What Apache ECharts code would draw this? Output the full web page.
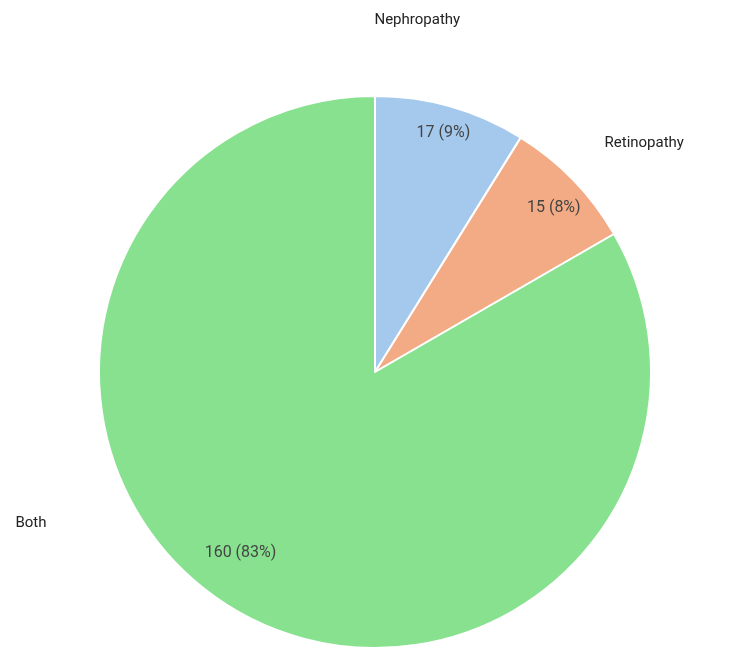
<!DOCTYPE html>
<html>
<head>
<meta charset="utf-8">
<script src="https://cdn.jsdelivr.net/npm/echarts@6/dist/echarts.min.js"></script>
<style>
  html, body { margin: 0; padding: 0; background: #fff; }
  #chart { width: 750px; height: 671px; }
</style>
</head>
<body>
<div id="chart"></div>
<script>
const categories = ['Nephropathy', 'Retinopathy', 'Both'];
const counts = [17, 15, 160];
const colors = ['#a5c9ec', '#f2ab85', '#87e18f'];

// label nudges from the library's default spot (pct ring / name ring)
const pctNudge = [[-1, 4], [-3, 12], [-8, -38]];
const nameNudge = [[-56, -8], [12, 20], [-165, -159]];

var chartDom = document.getElementById('chart');
var myChart = echarts.init(chartDom);

var total = counts.reduce(function (a, b) { return a + b; }, 0);
var pieData = categories.map(function (c, i) {
    return { name: c, value: counts[i], itemStyle: { color: colors[i] } };
});
var ghostData = categories.map(function (c, i) {
    return { name: c, value: counts[i] };
});

var ghost = {
    color: 'transparent',
    borderWidth: 0
};

var option = {
    animation: false,
    series: [
        {
            type: 'pie',
            center: [375, 372],
            radius: 276,
            startAngle: 90,
            clockwise: true,
            itemStyle: { borderColor: '#fff', borderWidth: 2 },
            label: { show: false },
            labelLine: { show: false },
            emphasis: { disabled: true },
            data: pieData
        },
        {
            type: 'pie',
            center: [375, 372],
            radius: [224, 276],
            startAngle: 90,
            silent: true,
            itemStyle: ghost,
            labelLine: { show: false },
            label: {
                show: true,
                position: 'inside',
                fontFamily: 'Roboto',
                fontSize: 16,
                color: '#444',
                formatter: function (p) {
                    return p.value + ' (' + Math.round(p.value / total * 100) + '%)';
                }
            },
            labelLayout: function (p) {
                return { dx: pctNudge[p.dataIndex][0], dy: pctNudge[p.dataIndex][1] };
            },
            data: ghostData
        },
        {
            type: 'pie',
            center: [375, 372],
            radius: [350, 360],
            startAngle: 90,
            silent: true,
            itemStyle: ghost,
            labelLine: { show: false },
            label: {
                show: true,
                position: 'inside',
                fontFamily: 'Roboto',
                fontSize: 15,
                color: '#222',
                formatter: '{b}'
            },
            labelLayout: function (p) {
                return { dx: nameNudge[p.dataIndex][0], dy: nameNudge[p.dataIndex][1] };
            },
            data: ghostData
        }
    ]
};
myChart.setOption(option);
</script>
</body>
</html>
